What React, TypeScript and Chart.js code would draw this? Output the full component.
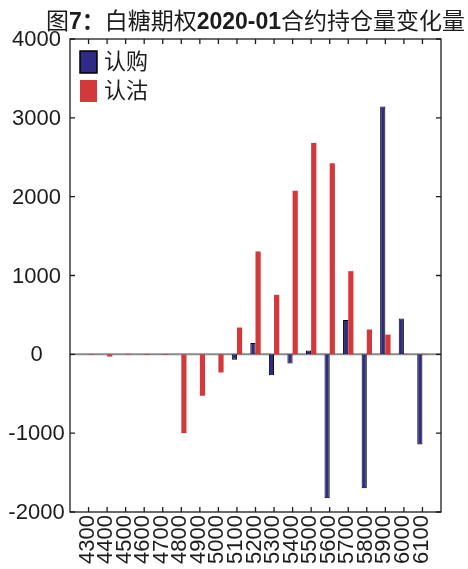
import React, { useEffect, useRef } from "react";
import { Chart, registerables } from "chart.js";

Chart.register(...registerables);

const categories = [4300, 4400, 4500, 4600, 4700, 4800, 4900, 5000, 5100, 5200, 5300, 5400, 5500, 5600, 5700, 5800, 5900, 6000, 6100];
const callValues = [0, 0, 0, 0, 0, 0, 0, 0, -70, 145, -265, -115, 50, -1825, 435, -1700, 3145, 455, -1145];
const putValues = [-8, -28, -8, -8, -8, -1000, -525, -230, 340, 1305, 755, 2075, 2680, 2425, 1055, 315, 250, 5, 5];
const yTicks = [-2000, -1000, 0, 1000, 2000, 3000, 4000];
const seriesNames = ["认购", "认沽"];
const titleParts = [
  { t: "图", b: false },
  { t: "7：", b: true },
  { t: "白糖期权", b: false },
  { t: "2020-01", b: true },
  { t: "合约持仓量变化量", b: false },
];

const FAMILY = "'Liberation Sans', Arial, 'Noto Sans CJK SC', sans-serif";
const BLUE = "#2f2a86";
const RED = "#d3393a";
const INK = "#1c1c1c";

const framePlugin = {
  id: "frame",
  beforeDatasetsDraw(chart: any) {
    const { ctx, chartArea, scales } = chart;
    const y0 = scales.y.getPixelForValue(0);
    ctx.save();
    ctx.strokeStyle = "#8a8a8a";
    ctx.lineWidth = 2;
    ctx.beginPath();
    ctx.moveTo(chartArea.left, y0);
    ctx.lineTo(chartArea.right, y0);
    ctx.stroke();
    ctx.restore();
  },
  afterDraw(chart: any) {
    const { ctx, chartArea, scales } = chart;
    const { left, right, top, bottom } = chartArea;
    ctx.save();
    ctx.strokeStyle = INK;
    ctx.lineWidth = 1.3;
    ctx.strokeRect(left, top, right - left, bottom - top);
    ctx.beginPath();
    const tl = 5;
    categories.forEach((c) => {
      const x = scales.x.getPixelForValue(c);
      ctx.moveTo(x, top);
      ctx.lineTo(x, top + tl);
      ctx.moveTo(x, bottom);
      ctx.lineTo(x, bottom - tl);
    });
    yTicks.forEach((v) => {
      const y = scales.y.getPixelForValue(v);
      ctx.moveTo(left, y);
      ctx.lineTo(left + tl, y);
      ctx.moveTo(right, y);
      ctx.lineTo(right - tl, y);
    });
    ctx.stroke();

    // axis labels
    ctx.fillStyle = INK;
    ctx.font = `22px ${FAMILY}`;
    ctx.textAlign = "center";
    ctx.textBaseline = "middle";
    yTicks.forEach((v) => {
      ctx.fillText(String(v), 36.5, scales.y.getPixelForValue(v) + 1);
    });
    ctx.textAlign = "right";
    categories.forEach((c) => {
      const x = scales.x.getPixelForValue(c);
      ctx.save();
      ctx.translate(x - 1, bottom + 3);
      ctx.rotate(-Math.PI / 2);
      ctx.fillText(String(c), 0, 0);
      ctx.restore();
    });

    // legend
    const bx = 80;
    const boxes = [
      { y: 51, c: BLUE, border: true },
      { y: 80, c: RED, border: false },
    ];
    ctx.font = `22px ${FAMILY}`;
    ctx.textBaseline = "middle";
    ctx.textAlign = "left";
    boxes.forEach((b, i) => {
      ctx.fillStyle = b.c;
      ctx.fillRect(bx, b.y, 17, 22);
      if (b.border) {
        ctx.lineWidth = 1.5;
        ctx.strokeStyle = "#000";
        ctx.strokeRect(bx, b.y, 17, 22);
      }
      ctx.fillStyle = INK;
      ctx.fillText(seriesNames[i], 104, b.y + 12);
    });

    // title
    const fontFor = (bold: boolean) => `${bold ? "bold " : ""}23px ${FAMILY}`;
    let total = 0;
    titleParts.forEach((p) => {
      ctx.font = fontFor(p.b);
      total += ctx.measureText(p.t).width;
    });
    let x = (left + right) / 2 - total / 2;
    ctx.textBaseline = "alphabetic";
    ctx.fillStyle = INK;
    titleParts.forEach((p) => {
      ctx.font = fontFor(p.b);
      ctx.fillText(p.t, x, 29);
      x += ctx.measureText(p.t).width;
    });
    ctx.restore();
  },
};

export default function App() {
  const ref = useRef<HTMLCanvasElement>(null);
  useEffect(() => {
    if (!ref.current) return;
    const chart = new Chart(ref.current, {
      type: "bar",
      data: {
        datasets: [
          {
            label: seriesNames[0],
            data: categories.map((c, i) => ({ x: c, y: callValues[i] })),
            backgroundColor: BLUE,
            borderColor: "#000",
            borderWidth: 1,
          },
          {
            label: seriesNames[1],
            data: categories.map((c, i) => ({ x: c, y: putValues[i] })),
            backgroundColor: RED,
            borderWidth: 0,
          },
        ],
      },
      options: {
        responsive: false,
        animation: false,
        devicePixelRatio: 1,
        layout: { padding: { top: 39, right: 27, left: 0, bottom: 0 } },
        plugins: {
          legend: { display: false },
          title: { display: false },
          tooltip: { enabled: false },
        },
        datasets: { bar: { categoryPercentage: 0.56, barPercentage: 1 } },
        scales: {
          x: {
            type: "linear",
            min: 4200,
            max: 6200,
            offset: false,
            grid: { display: false, drawTicks: false },
            border: { display: false },
            ticks: { display: false },
            afterFit: (s: any) => {
              s.height = 57;
              s.paddingLeft = 0;
              s.paddingRight = 0;
            },
          },
          y: {
            min: -2000,
            max: 4000,
            grid: { display: false, drawTicks: false },
            border: { display: false },
            ticks: { display: false },
            afterFit: (s: any) => {
              s.width = 70;
              s.paddingTop = 0;
              s.paddingBottom = 0;
            },
          },
        },
      },
      plugins: [framePlugin],
    } as any);
    return () => chart.destroy();
  }, []);
  return (
    <div style={{ position: "fixed", left: 0, top: 0, width: 468, height: 569, background: "#fff" }}>
      <canvas ref={ref} width={468} height={569} style={{ width: 468, height: 569, display: "block" }} />
    </div>
  );
}
